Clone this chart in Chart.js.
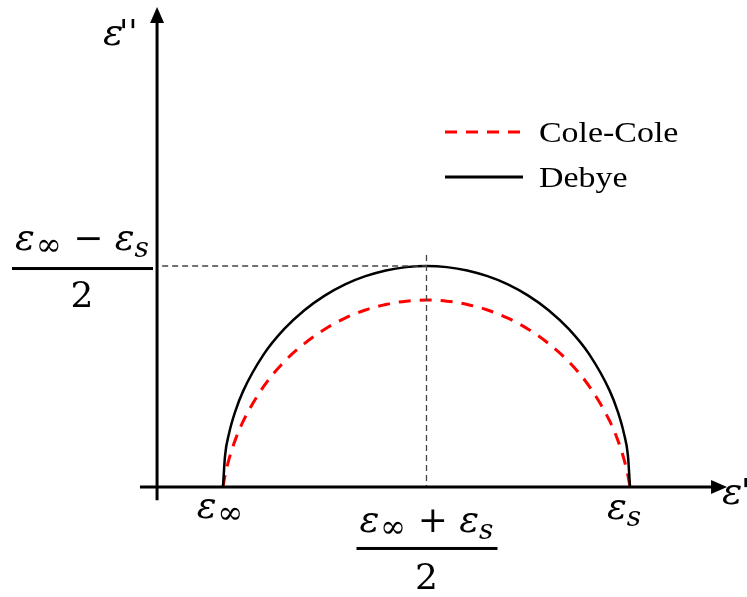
<!DOCTYPE html>
<html>
<head>
<meta charset="utf-8">
<script src="https://cdn.jsdelivr.net/npm/chart.js@4"></script>
<style>
  body { margin: 0; background: #fff; }
  #wrap { position: relative; width: 747px; height: 597px; }
</style>
</head>
<body>
<div id="wrap"><canvas id="chart"></canvas></div>
<script>
/* ==================== DATA ==================== */
// eps_inf = 1, eps_s = 3 (arbitrary units)
const epsX = [1, 1.01, 1.03, 1.06, 1.1, 1.2, 1.3, 1.4, 1.5, 1.6, 1.7, 1.8, 1.9, 2,
              2.1, 2.2, 2.3, 2.4, 2.5, 2.6, 2.7, 2.8, 2.9, 2.94, 2.97, 2.99, 3];
const debyeY = [0, .141, .243, .341, .436, .6, .714, .8, .866, .917, .954, .98, .995, 1,
                .995, .98, .954, .917, .866, .8, .714, .6, .436, .341, .243, .141, 0];
const coleY = [0, .051, .127, .212, .299, .455, .566, .649, .714, .764, .801, .826, .841, .846,
               .841, .826, .801, .764, .714, .649, .566, .455, .299, .212, .127, .051, 0];
const seriesNames = ["Cole-Cole", "Debye"];

// axis / guide geometry (data units)
const X_MIN = -0.0958, X_MAX = 3.575, Y_MIN = -0.498, Y_MAX = 2.204;
const yAxisX = 0.676, xAxisFrom = 0.592, xAxisTo = 3.42, yAxisFrom = -0.06, yAxisTo = 2.12;
const xTip = 3.477, yTip = 2.172;
const peakX = 2, peakY = 1;

const MATH = '"DejaVu Serif", serif';
const pts = ys => epsX.map((x, i) => ({ x: x, y: ys[i] }));
const seg = (a, b) => [a, b];

/* ==================== HELPERS ==================== */
function drawRuns(ctx, runs, cx, base) {
  let total = 0;
  runs.forEach(r => {
    ctx.font = (r.it ? "italic " : "") + r.size + "px " + MATH;
    r.w = ctx.measureText(r.t).width + (r.gap || 0);
    total += r.w;
  });
  let x = cx - total / 2;
  ctx.textAlign = "left";
  ctx.textBaseline = "alphabetic";
  runs.forEach(r => {
    ctx.font = (r.it ? "italic " : "") + r.size + "px " + MATH;
    ctx.fillText(r.t, x + (r.dx || 0), base + (r.dy || 0));
    x += r.w;
  });
  return total;
}
const epsInfRuns = () => [{ t: "ε", it: true, size: 37, gap: 1 }, { t: "∞", size: 31, dy: 5 }];
const epsSRuns = () => [{ t: "ε", it: true, size: 37 }, { t: "s", it: true, size: 28, dy: 7 }];

const decor = {
  id: "decor",
  afterDatasetsDraw(chart) {
    const ctx = chart.ctx, sx = chart.scales.x, sy = chart.scales.y;
    ctx.save();
    ctx.fillStyle = "#000";
    // arrowheads
    const ax = sx.getPixelForValue(yAxisX), ay = sy.getPixelForValue(yTip);
    ctx.beginPath();
    ctx.moveTo(ax, ay); ctx.lineTo(ax - 7, ay + 16); ctx.lineTo(ax + 7, ay + 16);
    ctx.closePath(); ctx.fill();
    const bx = sx.getPixelForValue(xTip), by = sy.getPixelForValue(0);
    ctx.beginPath();
    ctx.moveTo(bx, by); ctx.lineTo(bx - 16, by - 7); ctx.lineTo(bx - 16, by + 7);
    ctx.closePath(); ctx.fill();

    // axis names
    ctx.textAlign = "left";
    ctx.textBaseline = "alphabetic";
    ctx.font = "italic 38px " + MATH;
    ctx.fillText("ε", 103, 45);
    ctx.fillText("ε", 722, 504);
    ctx.font = "italic 34px " + MATH;
    ctx.fillText("''", 119, 44);
    ctx.fillText("'", 741, 503);

    // ticks on x axis
    const base = sy.getPixelForValue(0);
    drawRuns(ctx, epsInfRuns(), sx.getPixelForValue(1) - 3, base + 31);
    drawRuns(ctx, epsSRuns(), sx.getPixelForValue(3) - 6, base + 32);

    // bottom fraction (eps_inf + eps_s)/2
    const cx = sx.getPixelForValue(peakX);
    const runsB = epsInfRuns().concat([{ t: " + ", size: 36 }], epsSRuns());
    drawRuns(ctx, runsB, cx, base + 45);
    ctx.fillRect(cx - 70, base + 60, 141, 3);
    ctx.font = "36px " + MATH; ctx.textAlign = "center";
    ctx.fillText("2", cx, base + 102);

    // left fraction (eps_inf - eps_s)/2
    const py = sy.getPixelForValue(peakY);
    const runsL = epsInfRuns().concat([{ t: " − ", size: 36 }], epsSRuns());
    drawRuns(ctx, runsL, 82, py - 16);
    ctx.fillRect(12, py + 1, 141, 3);
    ctx.font = "36px " + MATH; ctx.textAlign = "center";
    ctx.fillText("2", 82, py + 41);

    // legend
    const items = [
      { name: seriesNames[0], color: "#ff0000", dash: [12, 9], y: 132 },
      { name: seriesNames[1], color: "#000", dash: [], y: 177 }
    ];
    items.forEach(it => {
      ctx.beginPath();
      ctx.setLineDash(it.dash);
      ctx.strokeStyle = it.color;
      ctx.lineWidth = 3;
      ctx.moveTo(445, it.y); ctx.lineTo(523, it.y);
      ctx.stroke();
      ctx.setLineDash([]);
      ctx.fillStyle = "#000";
      ctx.font = '30px "Liberation Serif", serif';
      ctx.textAlign = "left";
      ctx.textBaseline = "middle";
      ctx.save();
      ctx.translate(539, it.y + 2);
      ctx.scale(1.13, 1);
      ctx.fillText(it.name, 0, 0);
      ctx.restore();
    });
    ctx.restore();
  }
};

/* ==================== CHART ==================== */
const lineDs = (data, color, width, dash) => ({
  data: data, showLine: true, fill: false, pointRadius: 0,
  borderColor: color, borderWidth: width, borderDash: dash || []
});

new Chart(document.getElementById("chart"), {
  type: "scatter",
  data: {
    datasets: [
      lineDs(seg({ x: xAxisFrom, y: 0 }, { x: xAxisTo, y: 0 }), "#000", 3),
      lineDs(seg({ x: yAxisX, y: yAxisFrom }, { x: yAxisX, y: yAxisTo }), "#000", 3),
      lineDs(seg({ x: yAxisX + 0.025, y: peakY }, { x: peakX, y: peakY }), "#444", 1.3, [6, 4]),
      lineDs(seg({ x: peakX, y: peakY + 0.05 }, { x: peakX, y: 0 }), "#444", 1.3, [6, 4]),
      Object.assign(lineDs(pts(debyeY), "#000", 2.5), { label: seriesNames[1], cubicInterpolationMode: "monotone" }),
      Object.assign(lineDs(pts(coleY), "#ff0000", 3, [12, 9]), { label: seriesNames[0], cubicInterpolationMode: "monotone" })
    ]
  },
  options: {
    responsive: true,
    maintainAspectRatio: false,
    animation: false,
    layout: { padding: 0 },
    plugins: { legend: { display: false }, tooltip: { enabled: false } },
    scales: {
      x: { type: "linear", display: false, min: X_MIN, max: X_MAX },
      y: { type: "linear", display: false, min: Y_MIN, max: Y_MAX }
    }
  },
  plugins: [decor]
});
</script>
</body>
</html>
